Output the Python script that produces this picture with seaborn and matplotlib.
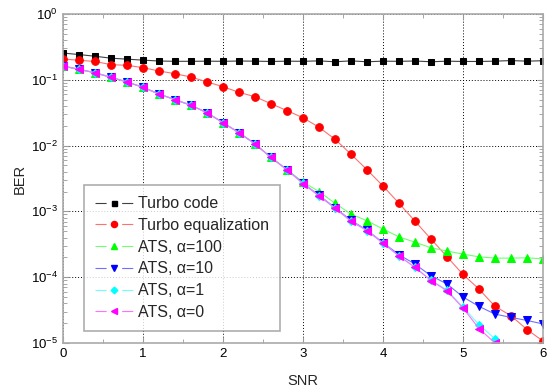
import matplotlib
matplotlib.use("Agg")
import matplotlib.pyplot as plt
import matplotlib.ticker as mticker
from matplotlib.lines import Line2D
import seaborn as sns
import pandas as pd

# SNR axis values
snr = [0.0, 0.2, 0.4, 0.6, 0.8, 1.0, 1.2, 1.4, 1.6, 1.8, 2.0, 2.2, 2.4, 2.6, 2.8,
       3.0, 3.2, 3.4, 3.6, 3.8, 4.0, 4.2, 4.4, 4.6, 4.8, 5.0, 5.2, 5.4, 5.6, 5.8, 6.0]

turbo_code = [0.255, 0.242, 0.228, 0.213, 0.206, 0.199, 0.193, 0.191, 0.191, 0.192,
              0.191, 0.193, 0.192, 0.190, 0.192, 0.191, 0.194, 0.188, 0.194, 0.188,
              0.192, 0.191, 0.193, 0.188, 0.192, 0.190, 0.190, 0.192, 0.196, 0.192, 0.195]

turbo_eq = [0.207, 0.198, 0.19, 0.17, 0.166, 0.153, 0.136, 0.124, 0.11, 0.093,
            0.0785, 0.0645, 0.0553, 0.0433, 0.034, 0.0265, 0.019, 0.0125, 0.0074, 0.0043,
            0.00243, 0.00133, 7.1e-4, 3.8e-4, 2.05e-4, 1.1e-4, 6.6e-5, 3.6e-5, 2.6e-5,
            1.6e-5, 1.07e-5]

# ATS curves share the same start up to SNR 2.8
ats_start = [0.162, 0.144, 0.128, 0.109, 0.0927, 0.0768, 0.0608, 0.0499, 0.041,
             0.0316, 0.0223, 0.0157, 0.0106, 0.0066, 0.0043]

ats_100 = ats_start + [0.0028, 0.002, 0.00133, 9.1e-4, 7.2e-4, 5.4e-4, 4.1e-4, 3.4e-4,
                       2.8e-4, 2.5e-4, 2.24e-4, 2.04e-4, 1.95e-4, 1.95e-4, 1.97e-4, 1.9e-4]
ats_10 = ats_start + [0.00268, 0.00176, 0.00114, 7.3e-4, 5.2e-4, 3.35e-4, 2.2e-4, 1.58e-4,
                      1.05e-4, 7.9e-5, 5.0e-5, 3.6e-5, 2.75e-5, 2.45e-5, 2.2e-5, 1.95e-5]
ats_1 = ats_start + [0.00266, 0.00173, 0.00112, 7.1e-4, 5.1e-4, 3.3e-4, 2.1e-4, 1.42e-4,
                     9.0e-5, 6.4e-5, 3.5e-5, 1.9e-5, 1.15e-5]
ats_0 = ats_start + [0.00265, 0.00172, 0.00112, 7.1e-4, 5.1e-4, 3.3e-4, 2.1e-4, 1.41e-4,
                     8.9e-5, 6.2e-5, 3.4e-5, 1.66e-5, 1.0e-5]

labels = ["Turbo code", "Turbo equalization", "ATS, α=100", "ATS, α=10", "ATS, α=1", "ATS, α=0"]
series = [turbo_code, turbo_eq, ats_100, ats_10, ats_1, ats_0]
marker_colors = ["#000000", "#ff0000", "#00ff00", "#0000ff", "#00ffff", "#ff00ff"]
line_colors = ["#404040", "#ff7070", "#70ff70", "#7070ff", "#70ffff", "#ff70ff"]
markers = ["s", "o", "^", "v", "D", "<"]
msizes = [4.5, 5.5, 5.5, 5.5, 4.2, 5.5]

sns.set_style("ticks")
plt.rcParams['font.family'] = ['Liberation Sans', 'DejaVu Sans']

fig = plt.figure(figsize=(5.5, 3.91), dpi=100)
ax = fig.add_axes([63 / 550, 1 - 343 / 391, 480 / 550, 329 / 391])

handles = []
for lab, ys, mc, lc, mk, ms in zip(labels, series, marker_colors, line_colors, markers, msizes):
    df = pd.DataFrame({"SNR": snr[:len(ys)], "BER": ys})
    sns.lineplot(data=df, x="SNR", y="BER", ax=ax, color=lc, linewidth=0.8,
                 marker=mk, markersize=ms, markerfacecolor=mc, markeredgecolor=mc)
    # legend handle drawn Origin-style: line, gap, marker, gap, line
    seg = Line2D([], [], color=lc, linewidth=0.8, dashes=(10, 14))
    dot = Line2D([], [], linestyle="none", marker=mk, markersize=ms * 0.8,
                 markerfacecolor=mc, markeredgecolor=mc)
    handles.append((seg, dot))

ax.set_yscale("log")
ax.set_xlim(0, 6)
ax.set_ylim(1e-5, 1)
ax.xaxis.set_major_locator(mticker.MultipleLocator(1))
ax.xaxis.set_minor_locator(mticker.MultipleLocator(0.5))
ax.yaxis.set_minor_locator(mticker.LogLocator(base=10, subs=range(2, 10), numticks=20))
ax.yaxis.set_minor_formatter(mticker.NullFormatter())

ax.grid(True, which="major", color="black", linestyle=(0, (1, 2)), linewidth=0.7)
ax.tick_params(which="both", direction="in", top=True, right=True, color="#999999",
               labelsize=9.5, labelcolor="black")
ax.tick_params(which="major", length=4)
ax.tick_params(which="minor", length=3)
for sp in ax.spines.values():
    sp.set_color("#aaaaaa")
    sp.set_linewidth(1.2)

ax.set_xlabel("SNR", fontsize=10.5, labelpad=10)
ax.set_ylabel("BER", fontsize=10.5, labelpad=3)

leg = ax.legend(handles, labels, loc="lower left", bbox_to_anchor=(21 / 480, 12 / 329),
                borderaxespad=0, fontsize=11.5, frameon=True, fancybox=False,
                handlelength=2.4, labelspacing=0.42, borderpad=0.7, handletextpad=0.3)
leg.get_frame().set_edgecolor("#999999")
leg.get_frame().set_linewidth(1.2)

fig.savefig("out.png", dpi=100)
